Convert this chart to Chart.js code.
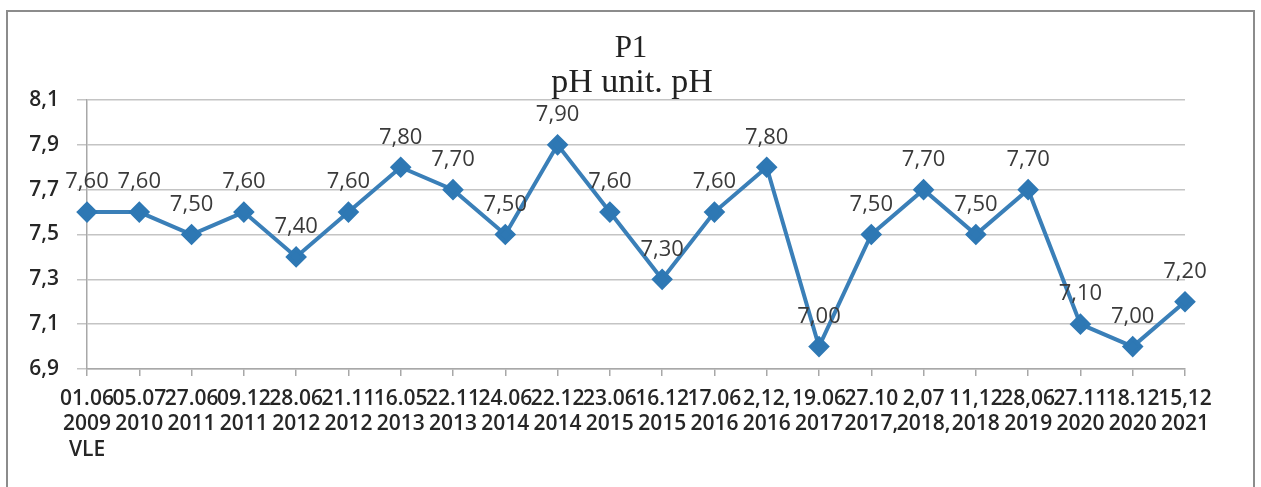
<!DOCTYPE html>
<html>
<head>
<meta charset="utf-8">
<script src="https://cdn.jsdelivr.net/npm/chart.js@4"></script>
<style>
  html, body { margin: 0; padding: 0; background: #fff; }
  #c { display: block; }
</style>
</head>
<body>
<canvas id="c" width="1261" height="487"></canvas>
<script>
const titleLines = ['P1', 'pH unit. pH'];
const categories = [
  ['01.06', '2009', 'VLE'], ['05.07', '2010'], ['27.06', '2011'], ['09.12', '2011'],
  ['28.06', '2012'], ['21.11', '2012'], ['16.05', '2013'], ['22.11', '2013'],
  ['24.06', '2014'], ['22.12', '2014'], ['23.06', '2015'], ['16.12', '2015'],
  ['17.06', '2016'], ['2,12,', '2016'], ['19.06', '2017'], ['27.10', '2017,'],
  ['2,07', '2018,'], ['11,12', '2018'], ['28,06', '2019'], ['27.11', '2020'],
  ['18.12', '2020'], ['15,12', '2021']
];
const phValues = [7.6, 7.6, 7.5, 7.6, 7.4, 7.6, 7.8, 7.7, 7.5, 7.9, 7.6,
                  7.3, 7.6, 7.8, 7.0, 7.5, 7.7, 7.5, 7.7, 7.1, 7.0, 7.2];
const yTicks = [6.9, 7.1, 7.3, 7.5, 7.7, 7.9, 8.1];

const fmt = (v, d) => v.toFixed(d).replace('.', ',');

const framePlugin = {
  id: 'frame',
  beforeDraw(chart) {
    const ctx = chart.ctx;
    ctx.save();
    ctx.fillStyle = '#fff';
    ctx.fillRect(0, 0, chart.width, chart.height);
    ctx.strokeStyle = '#8c8c8c';
    ctx.lineWidth = 2;
    ctx.strokeRect(7, 11, 1247, 500);
    ctx.restore();
  },
  afterDraw(chart) {
    const ctx = chart.ctx;
    ctx.save();
    ctx.fillStyle = '#222';
    ctx.textAlign = 'center';
    ctx.textBaseline = 'alphabetic';
    ctx.font = '31px "Liberation Serif", serif';
    ctx.fillText(titleLines[0], 631, 57);
    ctx.font = '34px "Liberation Serif", serif';
    ctx.fillText(titleLines[1], 632, 92);
    ctx.restore();
  }
};

const valueLabelPlugin = {
  id: 'valueLabels',
  afterDatasetsDraw(chart) {
    const ctx = chart.ctx;
    const meta = chart.getDatasetMeta(0);
    ctx.save();
    ctx.font = '22px "Open Sans", sans-serif';
    ctx.fillStyle = '#3a3a3a';
    ctx.textAlign = 'center';
    ctx.textBaseline = 'middle';
    meta.data.forEach((pt, i) => {
      ctx.fillText(fmt(phValues[i], 2), pt.x, pt.y - 30);
    });
    ctx.restore();
  }
};

new Chart(document.getElementById('c'), {
  type: 'line',
  data: {
    labels: categories,
    datasets: [{
      data: phValues,
      borderColor: '#3a7fb8',
      backgroundColor: '#2e78b4',
      borderWidth: 4,
      pointStyle: 'rectRot',
      pointRadius: 8,
      pointHoverRadius: 8,
      pointBackgroundColor: '#2e78b4',
      pointBorderColor: '#2e78b4',
      tension: 0,
      fill: false
    }]
  },
  options: {
    responsive: false,
    animation: false,
    devicePixelRatio: 1,
    layout: { padding: { top: 100, right: 76, left: 0, bottom: 0 } },
    plugins: {
      legend: { display: false },
      title: { display: false },
      tooltip: { enabled: false }
    },
    scales: {
      x: {
        offset: false,
        afterFit(scale) { scale.height = 118; },
        grid: { drawOnChartArea: false, drawTicks: true, tickLength: 7, color: '#a8a8a8', lineWidth: 1.5 },
        border: { color: '#a8a8a8', width: 1.5 },
        ticks: {
          autoSkip: false,
          maxRotation: 0,
          minRotation: 0,
          padding: 10,
          color: '#262626',
          font: { family: '"Open Sans", sans-serif', size: 21, weight: '600', lineHeight: 1.22 }
        }
      },
      y: {
        min: yTicks[0],
        max: yTicks[yTicks.length - 1],
        afterFit(scale) { scale.width = 87; },
        afterBuildTicks(scale) { scale.ticks = yTicks.map(v => ({ value: v })); },
        grid: { color: '#c4c4c4', lineWidth: 1.5, tickLength: 10, drawTicks: true },
        border: { color: '#a8a8a8', width: 1.5 },
        ticks: {
          padding: 18,
          color: '#262626',
          font: { family: '"Open Sans", sans-serif', size: 21, weight: '600' },
          callback: (v) => fmt(v, 1)
        }
      }
    }
  },
  plugins: [framePlugin, valueLabelPlugin]
});
</script>
</body>
</html>
